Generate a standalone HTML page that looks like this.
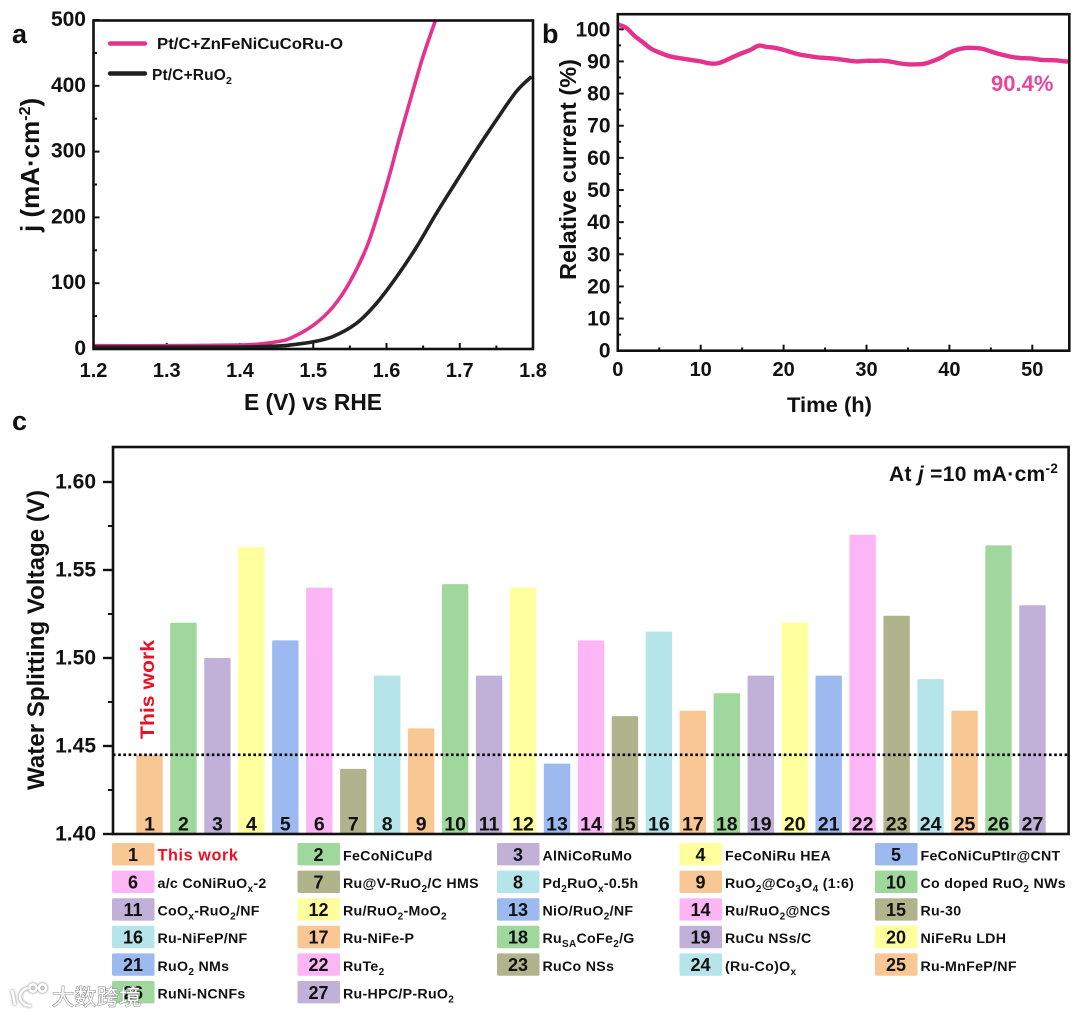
<!DOCTYPE html>
<html lang="en">
<head>
<meta charset="utf-8">
<title>Water splitting performance chart</title>
<style>
html,body{margin:0;padding:0;background:#fff;}
svg{display:block;font-family:"Liberation Sans","Noto Sans CJK SC",sans-serif;font-weight:bold;color:#111;filter:blur(0.3px);}
text{fill:#111;}
</style>
</head>
<body>
<svg id="figure" xmlns="http://www.w3.org/2000/svg" width="1080" height="1017" viewBox="0 0 1080 1017">
  <rect x="0" y="0" width="1080" height="1017" fill="#fff"/>

  <g id="panelA"></g>
  <g id="panelB"></g>
  <g id="panelC"></g>
  <g id="legendC"></g>

  <text x="12" y="43" font-size="27">a</text>
  <text x="542" y="43" font-size="27">b</text>
  <text x="12" y="430" font-size="27">c</text>

  <!-- panel a static -->
  <rect x="93.5" y="20.5" width="439.5" height="328.5" fill="none" stroke="#111" stroke-width="2.6"/>
  <text x="244" y="410" font-size="23" textLength="138" lengthAdjust="spacingAndGlyphs">E (V) vs RHE</text>
  <text transform="translate(39,232) rotate(-90)" font-size="26">j (mA·cm<tspan font-size="16" dy="-9">-2</tspan><tspan dy="9">)</tspan></text>
  <line x1="110" x2="145" y1="43.5" y2="43.5" stroke="#e5328f" stroke-width="4.4" stroke-linecap="round"/>
  <text x="157" y="49" font-size="15.5" textLength="186" lengthAdjust="spacingAndGlyphs">Pt/C+ZnFeNiCuCoRu-O</text>
  <line x1="110" x2="145" y1="73.5" y2="73.5" stroke="#1f1f1f" stroke-width="4.4" stroke-linecap="round"/>
  <text x="152" y="80" font-size="15.5" letter-spacing="0.15">Pt/C+RuO<tspan font-size="10.5" dy="4">2</tspan></text>

  <!-- panel b static -->
  <rect x="617.8" y="14.2" width="451.5" height="336.5" fill="none" stroke="#111" stroke-width="2.6"/>
  <text x="787" y="412" font-size="21" textLength="85" lengthAdjust="spacingAndGlyphs">Time (h)</text>
  <text transform="translate(576,280) rotate(-90)" font-size="23" textLength="221" lengthAdjust="spacingAndGlyphs">Relative current (%)</text>
  <text x="991" y="91" font-size="22" style="fill:#e8479b">90.4%</text>

  <!-- panel c static -->
  <text transform="translate(44,790) rotate(-90)" font-size="24" textLength="300" lengthAdjust="spacingAndGlyphs">Water Splitting Voltage (V)</text>
  <text transform="translate(154,739) rotate(-90)" font-size="19" textLength="99" lengthAdjust="spacingAndGlyphs" style="fill:#ee0f24">This work</text>
  <text x="889" y="481" font-size="21" letter-spacing="0.3">At <tspan font-style="italic">j</tspan> =10 mA·cm<tspan font-size="13.5" dy="-8">-2</tspan></text>

  <!-- watermark -->
  <g>
    <g fill="none" stroke="#fff" stroke-width="2.6" style="filter:drop-shadow(0 0 1.2px #666)">
      <path d="M12 990 L15 1005"/>
      <path d="M28 988 C17 990 17 1005 31 1006"/>
      <circle cx="33" cy="988" r="3.6"/>
      <circle cx="42.5" cy="988" r="3.6"/>
    </g>
    <text x="52" y="1005" font-size="22" font-weight="normal" style="font-family:'Noto Sans CJK SC',sans-serif;fill:#fff;stroke:#8a8a8a;stroke-width:1.1;paint-order:stroke" textLength="89">大数跨境</text>
  </g>
</svg>

<script>
// ---------- Panel a data ----------
const lsvPinkVoltage = [1.2, 1.3, 1.4, 1.43, 1.45, 1.468, 1.5, 1.527, 1.55, 1.573, 1.591, 1.605, 1.618, 1.636, 1.65, 1.667];
const lsvPinkCurrent = [5, 5, 6, 8, 11, 16, 36, 64, 102, 155, 215, 268, 322, 392, 445, 500];
const lsvBlackVoltage = [1.2, 1.3, 1.4, 1.45, 1.468, 1.5, 1.527, 1.559, 1.586, 1.614, 1.641, 1.668, 1.695, 1.723, 1.75, 1.777, 1.798];
const lsvBlackCurrent = [3, 3, 3, 4.5, 6, 11, 19, 39, 69, 110, 155, 206, 254, 303, 348, 391, 414];
const panelAXTicks = [1.2, 1.3, 1.4, 1.5, 1.6, 1.7, 1.8];
const panelAXMinorTicks = [1.25, 1.35, 1.45, 1.55, 1.65, 1.75];
const panelAYTicks = [0, 100, 200, 300, 400, 500];
const panelAYMinorTicks = [50, 150, 250, 350, 450];

// ---------- Panel b data ----------
const stabilityTime = [0, 1, 2, 3, 4, 5, 6, 7, 8, 9, 10, 11, 12, 13, 14, 15, 16, 17, 18, 19, 20, 21, 22, 23, 24, 25, 26, 27, 28, 29, 30, 31, 32, 33, 34, 35, 36, 37, 38, 39, 40, 41, 42, 43, 44, 45, 46, 47, 48, 49, 50, 51, 52, 53, 54, 54.5];
const stabilityCurrent = [101.5, 100.5, 98, 96, 94, 92.8, 91.8, 91.2, 90.8, 90.4, 90, 89.4, 89.4, 90.3, 91.5, 92.6, 93.6, 94.9, 94.5, 94.2, 93.6, 92.8, 92.1, 91.7, 91.3, 91.1, 90.9, 90.6, 90.2, 90, 90.2, 90.2, 90.2, 89.9, 89.4, 89.1, 89.1, 89.3, 90.1, 91.2, 92.7, 93.7, 94.2, 94.2, 93.9, 93.1, 92.3, 91.7, 91.2, 91, 90.9, 90.5, 90.4, 90.3, 90, 90];
const panelBXTicks = [0, 10, 20, 30, 40, 50];
const panelBXMinorTicks = [5, 15, 25, 35, 45];
const panelBYTicks = [0, 10, 20, 30, 40, 50, 60, 70, 80, 90, 100];
const panelBYMinorTicks = [5, 15, 25, 35, 45, 55, 65, 75, 85, 95];

// ---------- Panel c data ----------
const catalystNumbers = [1, 2, 3, 4, 5, 6, 7, 8, 9, 10, 11, 12, 13, 14, 15, 16, 17, 18, 19, 20, 21, 22, 23, 24, 25, 26, 27];
const splittingVoltage = [1.445, 1.52, 1.5, 1.563, 1.51, 1.54, 1.437, 1.49, 1.46, 1.542, 1.49, 1.54, 1.44, 1.51, 1.467, 1.515, 1.47, 1.48, 1.49, 1.52, 1.49, 1.57, 1.524, 1.488, 1.47, 1.564, 1.53];
const catalystNames = ["This work", "FeCoNiCuPd", "AlNiCoRuMo", "FeCoNiRu HEA", "FeCoNiCuPtIr@CNT", "a/c CoNiRuO{x}-2", "Ru@V-RuO{2}/C HMS", "Pd{2}RuO{x}-0.5h", "RuO{2}@Co{3}O{4} (1:6)", "Co doped RuO{2} NWs", "CoO{x}-RuO{2}/NF", "Ru/RuO{2}-MoO{2}", "NiO/RuO{2}/NF", "Ru/RuO{2}@NCS", "Ru-30", "Ru-NiFeP/NF", "Ru-NiFe-P", "Ru{SA}CoFe{2}/G", "RuCu NSs/C", "NiFeRu LDH", "RuO{2} NMs", "RuTe{2}", "RuCo NSs", "(Ru-Co)O{x}", "Ru-MnFeP/NF", "RuNi-NCNFs", "Ru-HPC/P-RuO{2}"];
const barPalette = ["#f9c794", "#9fd79c", "#c1b1d8", "#feff9d", "#9cb9f0", "#fdb6f5", "#b0b48c", "#b5e4ea"];
const referenceVoltage = [1.445];
const panelCYTicks = [1.4, 1.45, 1.5, 1.55, 1.6];
const panelCYMinorTicks = [1.425, 1.475, 1.525, 1.575];

// ---------- Axis functions ----------
const xA = v => 93.5 + (v - 1.2) * (533 - 93.5) / 0.6;
const yA = v => 349 - v * 329 / 500;
const xB = v => 617.8 + v * 8.29;
const yB = v => 350.7 - v * 3.214;
const xC = i => 149.5 + i * 33.96;
const yC = v => 834 - (v - 1.4) * 1760;

const NS = 'http://www.w3.org/2000/svg';
const panelA = document.getElementById('panelA');
const panelB = document.getElementById('panelB');
const panelC = document.getElementById('panelC');
const legendC = document.getElementById('legendC');

function make(tag, parent, attrs) {
  const node = document.createElementNS(NS, tag);
  for (const key in attrs) node.setAttribute(key, attrs[key]);
  parent.appendChild(node);
  return node;
}
function smoothPath(px, py) {
  let d = 'M' + px[0].toFixed(2) + ' ' + py[0].toFixed(2);
  for (let i = 0; i < px.length - 1; i++) {
    const a = Math.max(i - 1, 0), b = Math.min(i + 2, px.length - 1);
    const c1x = px[i] + (px[i + 1] - px[a]) / 6, c1y = py[i] + (py[i + 1] - py[a]) / 6;
    const c2x = px[i + 1] - (px[b] - px[i]) / 6, c2y = py[i + 1] - (py[b] - py[i]) / 6;
    d += 'C' + c1x.toFixed(2) + ' ' + c1y.toFixed(2) + ' ' + c2x.toFixed(2) + ' ' + c2y.toFixed(2) + ' ' + px[i + 1].toFixed(2) + ' ' + py[i + 1].toFixed(2);
  }
  return d;
}
function addRich(textEl, label, subSize) {
  const parts = label.split(/(\{[^}]*\})/).filter(Boolean);
  let shifted = false;
  parts.forEach(part => {
    const span = document.createElementNS(NS, 'tspan');
    if (part[0] === '{') {
      span.textContent = part.slice(1, -1);
      span.setAttribute('font-size', subSize);
      span.setAttribute('dy', shifted ? '0' : '4');
      shifted = true;
    } else {
      span.textContent = part;
      if (shifted) span.setAttribute('dy', '-4');
      shifted = false;
    }
    textEl.appendChild(span);
  });
}

// ---------- Panel a ----------
panelAXMinorTicks.forEach(v => {
  const el = make('line', panelA, {x1: xA(v), x2: xA(v), y1: 349, y2: 345.5, stroke: '#111', 'stroke-width': 2});
  
  
});
panelAXTicks.forEach(v => {
  const tick = make('line', panelA, {x1: xA(v), x2: xA(v), y1: 349, y2: 343, stroke: '#111', 'stroke-width': 2});
  
  
  const label = make('text', panelA, {x: xA(v), y: 377, 'font-size': 20, 'text-anchor': 'middle'});
  
  
  label.textContent = v.toFixed(1);
});
panelAYMinorTicks.forEach(v => {
  const el = make('line', panelA, {x1: 93.5, x2: 97, y1: yA(v), y2: yA(v), stroke: '#111', 'stroke-width': 2});
  
  
});
panelAYTicks.forEach(v => {
  const tick = make('line', panelA, {x1: 93.5, x2: 99.5, y1: yA(v), y2: yA(v), stroke: '#111', 'stroke-width': 2});
  
  
  const label = make('text', panelA, {x: 86, y: yA(v) + 6, 'font-size': 21, 'text-anchor': 'end'});
  
  
  label.textContent = String(v);
});
const pinkCurve = make('path', panelA, {
  d: smoothPath(lsvPinkVoltage.map(xA), lsvPinkCurrent.map(yA)),
  fill: 'none', stroke: '#e5328f', 'stroke-width': 3.6, 'stroke-linejoin': 'round'
});


const blackCurve = make('path', panelA, {
  d: smoothPath(lsvBlackVoltage.map(xA), lsvBlackCurrent.map(yA)),
  fill: 'none', stroke: '#222', 'stroke-width': 3.6, 'stroke-linejoin': 'round'
});



// ---------- Panel b ----------
panelBXMinorTicks.forEach(v => {
  const el = make('line', panelB, {x1: xB(v), x2: xB(v), y1: 350.7, y2: 347.5, stroke: '#111', 'stroke-width': 2});
  
  
});
panelBXTicks.forEach(v => {
  const tick = make('line', panelB, {x1: xB(v), x2: xB(v), y1: 350.7, y2: 344.7, stroke: '#111', 'stroke-width': 2});
  
  
  const label = make('text', panelB, {x: xB(v), y: 376, 'font-size': 20, 'text-anchor': 'middle'});
  
  
  label.textContent = String(v);
});
panelBYMinorTicks.forEach(v => {
  const el = make('line', panelB, {x1: 617.8, x2: 621, y1: yB(v), y2: yB(v), stroke: '#111', 'stroke-width': 2});
  
  
});
panelBYTicks.forEach(v => {
  const tick = make('line', panelB, {x1: 617.8, x2: 623.8, y1: yB(v), y2: yB(v), stroke: '#111', 'stroke-width': 2});
  
  
  const label = make('text', panelB, {x: 610.5, y: yB(v) + 7, 'font-size': 21, 'text-anchor': 'end'});
  
  
  label.textContent = String(v);
});
const stabilityCurve = make('path', panelB, {
  d: smoothPath(stabilityTime.map(xB), stabilityCurrent.map(yB)),
  fill: 'none', stroke: '#e5328f', 'stroke-width': 4.4, 'stroke-linejoin': 'round'
});



// ---------- Panel c ----------
catalystNumbers.forEach((n, i) => {
  const bar = make('rect', panelC, {
    x: xC(i) - 13.2, y: yC(splittingVoltage[i]), width: 26.4,
    height: yC(1.4) - yC(splittingVoltage[i]), rx: 1, fill: barPalette[i % barPalette.length]
  });
  
  
});
catalystNumbers.forEach((n, i) => {
  const num = make('text', panelC, {x: xC(i), y: 830.5, 'font-size': 19.5, 'text-anchor': 'middle'});
  
  
  num.textContent = String(n);
});
const refLine = make('line', panelC, {
  x1: 113, x2: 1068.6, y1: yC(referenceVoltage[0]), y2: yC(referenceVoltage[0]),
  stroke: '#000', 'stroke-width': 2.6, 'stroke-dasharray': '2.6 2.6'
});


const frameC = make('rect', panelC, {x: 113, y: 447, width: 955.6, height: 387, fill: 'none', stroke: '#111', 'stroke-width': 2.6});


panelCYMinorTicks.forEach(v => {
  const el = make('line', panelC, {x1: 108, x2: 113, y1: yC(v), y2: yC(v), stroke: '#111', 'stroke-width': 2});
  
  
});
panelCYTicks.forEach(v => {
  const tick = make('line', panelC, {x1: 103, x2: 113, y1: yC(v), y2: yC(v), stroke: '#111', 'stroke-width': 2.4});
  
  
  const label = make('text', panelC, {x: 96, y: yC(v) + 6.5, 'font-size': 21, 'text-anchor': 'end'});
  
  
  label.textContent = v.toFixed(2);
});

// ---------- Legend layout (positions kept apart from data) ----------
const columnLeft = col => [112, 297.5, 497, 679.5, 875][col];
catalystNames.forEach((name, i) => {
  const col = i % 5, row = Math.floor(i / 5);
  const left = columnLeft(col), top = 843 + row * 27.6;
  const swatch = make('rect', legendC, {x: left, y: top, width: 42.5, height: 22.4, rx: 1.5, fill: barPalette[i % barPalette.length]});
  
  
  const num = make('text', legendC, {x: left + 21, y: top + 17.8, 'font-size': 18, 'text-anchor': 'middle'});
  
  
  num.textContent = String(catalystNumbers[i]);
  const isOwn = i === 0;
  const label = make('text', legendC, {x: left + 45.5, y: top + 17.4, 'font-size': isOwn ? 16.2 : 14.2, 'letter-spacing': isOwn ? 0.6 : 0.3});
  
  
  if (isOwn) label.style.fill = '#ee0f24';
  addRich(label, name, 10);
});
</script>
</body>
</html>
